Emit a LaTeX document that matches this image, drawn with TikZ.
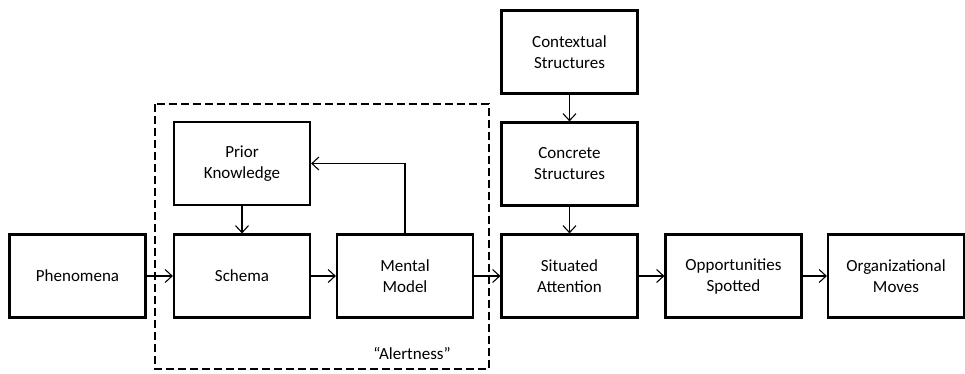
\documentclass[tikz,border=0pt]{standalone}
\usepackage{fontspec}
\setmainfont{Carlito}
\usepackage{tikz}
\usetikzlibrary{arrows.meta}

\tikzset{
  stage/.style={draw, line width=2.2pt, minimum width=136pt, minimum height=83pt,
    align=center, inner sep=2pt, font=\fontsize{17}{21}\selectfont},
  flow/.style={line width=1.1pt, -{Straight Barb[length=7pt,width=13pt,line width=1.1pt]}},
}

\begin{document}
\begin{tikzpicture}[x=1pt,y=1pt]
\useasboundingbox (0,0) rectangle (965,-373);
% alertness frame
\draw[line width=2.2pt, dash pattern=on 8pt off 4pt] (155,-104) rectangle (489,-369);
\node[font=\fontsize{17}{21}\selectfont] (alert) at (412,-353) {“Alertness”};
% stages
\node[stage] (phen) at (77.5,-276) {Phenomena};
\node[stage] (schema) at (242,-276) {Schema};
\node[stage] (mental) at (405,-276) {Mental\\Model};
\node[stage] (prior) at (242,-163.5) {Prior\\Knowledge};
\node[stage] (context) at (569.5,-52) {Contextual\\Structures};
\node[stage] (concrete) at (569.5,-164) {Concrete\\Structures};
\node[stage] (situated) at (569.5,-276) {Situated\\Attention};
\node[stage] (oppo) at (733.5,-276) {Opportunities\\Spotted};
\node[stage] (orgmoves) at (896,-276) {Organizational\\Moves};
% connectors
\draw[flow] (phen) -- (schema);
\draw[flow] (schema) -- (mental);
\draw[flow] (mental) -- (situated);
\draw[flow] (situated) -- (oppo);
\draw[flow] (oppo) -- (orgmoves);
\draw[flow] (prior) -- (schema);
\draw[flow] (context) -- (concrete);
\draw[flow] (concrete) -- (situated);
\draw[flow] (mental.north) |- (prior.east);
\end{tikzpicture}
\end{document}
